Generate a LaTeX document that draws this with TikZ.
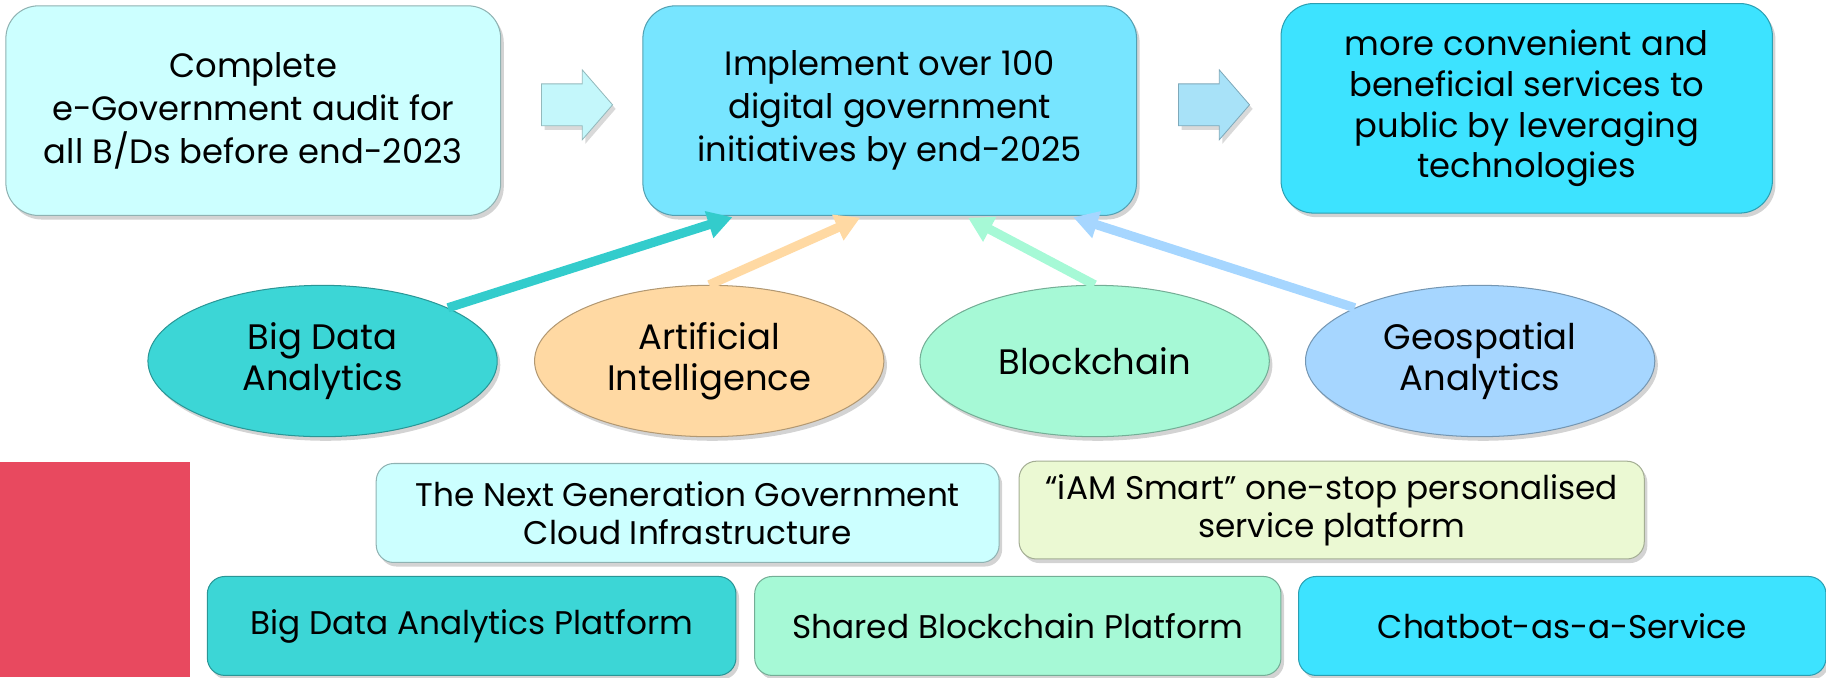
\documentclass[tikz,border=0pt]{standalone}
\usepackage{fontspec}
\setmainfont{Poppins}
\usetikzlibrary{shapes.geometric,arrows.meta,shadows,calc}
\definecolor{cLight}{HTML}{CCFFFF}
\definecolor{cMid}{HTML}{77E5FF}
\definecolor{cDeep}{HTML}{3DE3FF}
\definecolor{cTeal}{HTML}{3CD6D6}
\definecolor{cOrange}{HTML}{FFD9A3}
\definecolor{cGreen}{HTML}{A6F9D6}
\definecolor{cBlue}{HTML}{A6D6FF}
\definecolor{cRed}{HTML}{E8495F}
\definecolor{cLime}{HTML}{EBF9D3}
\definecolor{cArrA}{HTML}{C4F7FB}
\definecolor{cArrB}{HTML}{A8E2F8}
\definecolor{cTealArr}{HTML}{33CCCC}
\tikzset{
  bigbox/.style={draw=#1!70!black, fill=#1, line width=0.5pt, rounded corners=0.56cm,
    align=center, inner sep=0pt, minimum height=3.6cm,
    font=\fontsize{16.5}{21}\selectfont,
    drop shadow={opacity=0.35, shadow xshift=1.5pt, shadow yshift=-2pt}},
  smallbox/.style={draw=#1!70!black, fill=#1, line width=0.5pt, rounded corners=0.3cm,
    align=center, inner sep=0pt, minimum height=1.7cm,
    font=\fontsize{16}{18.7}\selectfont,
    drop shadow={opacity=0.35, shadow xshift=1.5pt, shadow yshift=-2pt}},
  tech/.style={ellipse, draw=#1!70!black, fill=#1, line width=0.5pt, align=center,
    inner sep=0pt, minimum width=6cm, minimum height=2.6cm,
    font=\fontsize{17.3}{19.8}\selectfont,
    drop shadow={opacity=0.35, shadow xshift=1.5pt, shadow yshift=-2pt}},
  feed/.style={draw=#1, line width=4.5pt, -{Triangle[width=13pt,length=12pt]}, shorten >=2pt},
  blockarr/.style={fill=#1, draw=#1!75!black, line width=0.4pt,
    drop shadow={opacity=0.3, shadow xshift=1.5pt, shadow yshift=-2pt}}
}
\begin{document}
\begin{tikzpicture}[x=0.02cm,y=-0.02cm]
\useasboundingbox (0,0) rectangle (1568,581.4);

% top row
\node[bigbox=cLight, minimum width=8.5cm] (audit) at (217.5,95)
  {Complete\\e-Government audit for\\all B/Ds before end-2023};
\node[bigbox=cMid, minimum width=8.48cm] (impl) at (764,95)
  {Implement over 100\\digital government\\initiatives by end-2025};
\node[bigbox=cDeep, minimum width=8.44cm, font=\fontsize{16.5}{20}\selectfont] (serv) at (1311,93)
  {more convenient and\\beneficial services to\\public by leveraging\\technologies};

% block arrows
\path[blockarr=cArrA] (465,72) -- (500,72) -- (500,60) -- (526,90) -- (500,120) -- (500,108) -- (465,108) -- cycle;
\path[blockarr=cArrB] (1012,72) -- (1047,72) -- (1047,60) -- (1073,90) -- (1047,120) -- (1047,108) -- (1012,108) -- cycle;

% technologies
\node[tech=cTeal] (bda) at (277,310) {Big Data\\Analytics};
\node[tech=cOrange] (ai) at (609,310) {Artificial\\Intelligence};
\node[tech=cGreen] (bc) at (940,310) {Blockchain};
\node[tech=cBlue] (geo) at (1271,310) {Geospatial\\Analytics};

% connectors
\coordinate (t1) at ($(impl.south west)!0.19!(impl.south east)$);
\coordinate (t2) at ($(impl.south west)!0.448!(impl.south east)$);
\coordinate (t3) at ($(impl.south west)!0.651!(impl.south east)$);
\coordinate (t4) at ($(impl.south west)!0.863!(impl.south east)$);
\draw[feed=cTealArr] (bda.23) -- (t1);
\draw[feed=cOrange] (ai.north) -- (t2);
\draw[feed=cGreen] (bc.north) -- (t3);
\draw[feed=cBlue] (geo.157) -- (t4);

% red block
\fill[cRed] (0,397) rectangle (163,581.4);

% platforms
\node[smallbox=cLight, minimum width=10.7cm] (cloud) at (590.5,440.5)
  {The Next Generation Government\\Cloud Infrastructure};
\node[smallbox=cLime, minimum width=10.74cm, minimum height=1.68cm] (iam) at (1143.5,438)
  {“iAM Smart” one-stop personalised\\service platform};
\node[smallbox=cTeal, minimum width=9.08cm] (bdap) at (405,537.5)
  {Big Data Analytics Platform};
\node[smallbox=cGreen, minimum width=9.04cm] (sbp) at (874,537.5)
  {Shared Blockchain Platform};
\node[smallbox=cDeep, minimum width=9.06cm] (chat) at (1341.5,537.5)
  {Chatbot-as-a-Service};
\end{tikzpicture}
\end{document}
